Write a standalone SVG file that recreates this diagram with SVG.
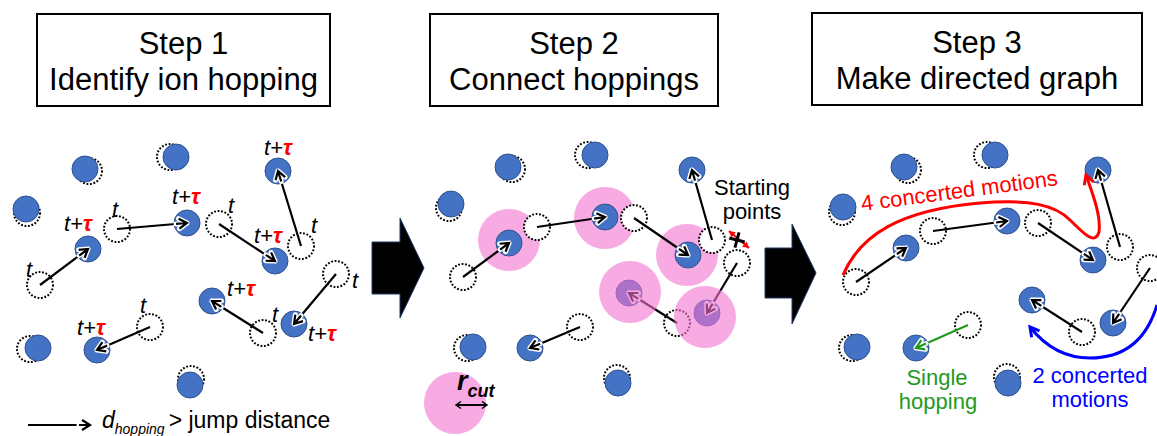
<svg xmlns="http://www.w3.org/2000/svg" width="1157" height="436" viewBox="0 0 1157 436">
<style>
.ion{fill:#4472c4;stroke:#2f528f;stroke-width:1}
.ghost{fill:#fff;stroke:#000;stroke-width:2;stroke-dasharray:1.8 1.7}
.arr{stroke:#000;stroke-width:2.2;fill:none;marker-end:url(#ah)}
.garr{stroke:#1f9a1f;stroke-width:2.2;fill:none;marker-end:url(#ahg)}
.lb{font-family:"Liberation Sans",Arial,sans-serif;font-size:22px;font-style:italic;fill:#000}
.tau{fill:#ff0000;font-weight:bold}
.hdr{font-family:"Liberation Sans",Arial,sans-serif;font-size:31px;text-anchor:middle;fill:#000}
.box{fill:#fff;stroke:#000;stroke-width:2}
.pink{fill:#f8aae2}
.pinkov{fill:#f371cf;opacity:0.6}
.txt{font-family:"Liberation Sans",Arial,sans-serif;font-size:22px}
.blk{fill:#000;stroke:#1f3864;stroke-width:1}
</style>
<defs>
<marker id="ah" viewBox="-14 -8 18 16" refX="0" refY="0" markerWidth="18" markerHeight="16" markerUnits="userSpaceOnUse" orient="auto" overflow="visible">
<path d="M-8,-5 L0,0 L-8,5 M0,0 L-11,0" fill="none" stroke="#fff" stroke-width="5" stroke-linejoin="round" stroke-linecap="round"/>
<path d="M-8,-5 L0,0 L-8,5 M0,0 L-11,0" fill="none" stroke="#000" stroke-width="2.2"/>
</marker>
<marker id="ahg" viewBox="-14 -8 18 16" refX="0" refY="0" markerWidth="18" markerHeight="16" markerUnits="userSpaceOnUse" orient="auto" overflow="visible">
<path d="M-8,-5 L0,0 L-8,5 M0,0 L-11,0" fill="none" stroke="#fff" stroke-width="5" stroke-linejoin="round" stroke-linecap="round"/>
<path d="M-8,-5 L0,0 L-8,5 M0,0 L-11,0" fill="none" stroke="#1f9a1f" stroke-width="2.2"/>
</marker>
<marker id="ahr" viewBox="-12 -8 14 16" refX="0" refY="0" markerWidth="14" markerHeight="16" markerUnits="userSpaceOnUse" orient="auto" overflow="visible">
<path d="M-9,-5 L0,0 L-9,5" fill="none" stroke="#ff0000" stroke-width="3"/>
</marker>
<marker id="ahb" viewBox="-12 -8 14 16" refX="0" refY="0" markerWidth="14" markerHeight="16" markerUnits="userSpaceOnUse" orient="auto" overflow="visible">
<path d="M-9,-5 L0,0 L-9,5" fill="none" stroke="#0000ff" stroke-width="3"/>
</marker>
<marker id="tr" viewBox="-6 -4 7 8" refX="0" refY="0" markerWidth="7" markerHeight="8" markerUnits="userSpaceOnUse" orient="auto-start-reverse" overflow="visible">
<path d="M-6,-3.5 L0,0 L-6,3.5 Z" fill="#ff0000"/>
</marker>
<marker id="tk" viewBox="-6 -4 7 8" refX="0" refY="0" markerWidth="7" markerHeight="8" markerUnits="userSpaceOnUse" orient="auto-start-reverse" overflow="visible">
<path d="M-5,-3.5 L0,0 L-5,3.5" fill="none" stroke="#000" stroke-width="1.5"/>
</marker>
</defs>

<!-- Headers -->
<g id="step1"><rect class="box" x="37" y="14" width="293" height="92"/><text class="hdr" x="183.5" y="54">Step 1</text><text class="hdr" x="183.5" y="90">Identify ion hopping</text></g>
<g id="step2"><rect class="box" x="430" y="14" width="288" height="92"/><text class="hdr" x="574" y="54">Step 2</text><text class="hdr" x="574" y="90">Connect hoppings</text></g>
<g id="step3"><rect class="box" x="812" y="13" width="330" height="92"/><text class="hdr" x="977" y="53">Step 3</text><text class="hdr" x="977" y="89">Make directed graph</text></g>

<!-- Block arrows -->
<g id="bigarrow1"><polygon class="blk" points="372,242 400,242 400,218 424,268 400,318 400,294 372,294"/></g>
<g id="bigarrow2"><polygon class="blk" points="765,248 792,248 792,224 816,273 792,324 792,298 765,298"/></g>

<!-- ===== Panel 1 ===== -->
<g id="p1-s1"><circle class="ghost" cx="89" cy="171" r="13"/><circle class="ion" cx="85" cy="169" r="13"/></g>
<g id="p1-s2"><circle class="ghost" cx="27" cy="213" r="13"/><circle class="ion" cx="26" cy="209" r="13"/></g>
<g id="p1-s3"><circle class="ghost" cx="170" cy="157" r="13"/><circle class="ion" cx="176" cy="157" r="13"/></g>
<g id="p1-s4"><circle class="ghost" cx="30" cy="349" r="13"/><circle class="ion" cx="38" cy="348" r="13"/></g>
<g id="p1-s5"><circle class="ghost" cx="191" cy="379" r="13"/><circle class="ion" cx="190" cy="385" r="13"/></g>

<g id="p1-h1"><circle class="ghost" cx="40" cy="285" r="13"/><circle class="ion" cx="88" cy="249" r="13"/><text class="lb" x="26" y="277">t</text><text class="lb" x="64" y="231">t+<tspan class="tau">τ</tspan></text></g>
<g id="p1-h2"><circle class="ghost" cx="117" cy="229" r="13"/><circle class="ion" cx="187" cy="223" r="13"/><text class="lb" x="112" y="217">t</text><text class="lb" x="172" y="204">t+<tspan class="tau">τ</tspan></text></g>
<g id="p1-h3"><circle class="ghost" cx="219" cy="224" r="13"/><circle class="ion" cx="275" cy="261" r="13"/><text class="lb" x="228" y="213">t</text><text class="lb" x="254" y="243">t+<tspan class="tau">τ</tspan></text></g>
<g id="p1-h4"><circle class="ghost" cx="301" cy="246" r="13"/><circle class="ion" cx="278" cy="171" r="13"/><text class="lb" x="311" y="233">t</text><text class="lb" x="264" y="155">t+<tspan class="tau">τ</tspan></text></g>
<g id="p1-h5"><circle class="ghost" cx="336" cy="274" r="13"/><circle class="ion" cx="294" cy="324" r="13"/><text class="lb" x="352" y="288">t</text><text class="lb" x="308" y="341">t+<tspan class="tau">τ</tspan></text></g>
<g id="p1-h6"><circle class="ghost" cx="263" cy="333" r="13"/><circle class="ion" cx="212" cy="301" r="13"/><text class="lb" x="272" y="322">t</text><text class="lb" x="227" y="296">t+<tspan class="tau">τ</tspan></text></g>
<g id="p1-h7"><circle class="ghost" cx="150" cy="327" r="13"/><circle class="ion" cx="97" cy="350" r="13"/><text class="lb" x="140" y="313">t</text><text class="lb" x="77" y="335">t+<tspan class="tau">τ</tspan></text></g>

<g id="p1-legend">
<text class="txt" x="102" y="428" style="font-size:23px"><tspan font-style="italic">d</tspan><tspan font-style="italic" style="font-size:14px" dy="6">hopping</tspan><tspan dy="-6" dx="4">&gt; jump distance</tspan></text>
</g>

<g id="p1-connectors">
<line class="arr" x1="40" y1="285" x2="88" y2="249"/>
<line class="arr" x1="117" y1="229" x2="187" y2="223"/>
<line class="arr" x1="219" y1="224" x2="275" y2="261"/>
<line class="arr" x1="301" y1="246" x2="278" y2="171"/>
<line class="arr" x1="336" y1="274" x2="294" y2="324"/>
<line class="arr" x1="263" y1="333" x2="212" y2="301"/>
<line class="arr" x1="150" y1="327" x2="97" y2="350"/>
<line class="arr" x1="28" y1="425" x2="90" y2="425"/>
</g>

<!-- ===== Panel 2 ===== -->
<g id="p2-pinks">
<circle class="pink" cx="509" cy="240" r="31"/>
<circle class="pink" cx="605" cy="218" r="31"/>
<circle class="pink" cx="687" cy="255" r="31"/>
</g>
<g id="p2-s1"><circle class="ghost" cx="512" cy="169" r="13"/><circle class="ion" cx="508" cy="167" r="13"/></g>
<g id="p2-s2"><circle class="ghost" cx="449" cy="208" r="13"/><circle class="ion" cx="451" cy="204" r="13"/></g>
<g id="p2-s3"><circle class="ghost" cx="588" cy="155" r="13"/><circle class="ion" cx="595" cy="155" r="13"/></g>
<g id="p2-s4"><circle class="ghost" cx="467" cy="348" r="13"/><circle class="ion" cx="473" cy="347" r="13"/></g>
<g id="p2-s5"><circle class="ghost" cx="617" cy="378" r="13"/><circle class="ion" cx="618" cy="383" r="13"/></g>
<g id="p2-h1"><circle class="ghost" cx="463" cy="277" r="13"/><circle class="ion" cx="509" cy="243" r="13"/></g>
<g id="p2-h2"><circle class="ghost" cx="537" cy="227" r="13"/><circle class="ion" cx="605" cy="217" r="13"/></g>
<g id="p2-h3"><circle class="ghost" cx="634" cy="218" r="13"/><circle class="ion" cx="688" cy="255" r="13"/></g>
<g id="p2-h4"><circle class="ghost" cx="712" cy="240" r="13"/><circle class="ion" cx="692" cy="170" r="13"/></g>
<g id="p2-h5"><circle class="ghost" cx="737" cy="263" r="13"/><circle class="ion" cx="707" cy="313" r="13"/></g>
<g id="p2-h6"><circle class="ghost" cx="677" cy="323" r="13"/><circle class="ion" cx="629" cy="293" r="13"/></g>
<g id="p2-h7"><circle class="ghost" cx="580" cy="327" r="13"/><circle class="ion" cx="530" cy="348" r="13"/></g>

<g id="p2-connectors">
<line class="arr" x1="463" y1="277" x2="509" y2="243"/>
<line class="arr" x1="537" y1="227" x2="605" y2="217"/>
<line class="arr" x1="634" y1="218" x2="688" y2="255"/>
<line class="arr" x1="712" y1="240" x2="692" y2="170"/>
<line class="arr" x1="737" y1="263" x2="707" y2="313"/>
<line class="arr" x1="677" y1="323" x2="629" y2="293"/>
<line class="arr" x1="580" y1="327" x2="530" y2="348"/>
</g>

<g id="p2-pinks-over">
<circle class="pinkov" cx="630" cy="292" r="31"/>
<circle class="pinkov" cx="705" cy="317" r="31"/>
</g>

<g id="p2-start">
<text class="txt" x="752" y="195" text-anchor="middle">Starting</text>
<text class="txt" x="752" y="219" text-anchor="middle">points</text>
<line x1="729" y1="231" x2="749" y2="248" stroke="#ff0000" stroke-width="2" marker-start="url(#tr)" marker-end="url(#tr)"/>
<path d="M729,240 H745 M737,232 V248" stroke="#000" stroke-width="3" transform="rotate(15 737 240)"/>
</g>

<g id="p2-rcut">
<circle class="pink" cx="455" cy="403" r="31"/>
<text x="457" y="390" font-family="Liberation Sans,Arial,sans-serif" font-size="27" font-weight="bold" font-style="italic">r<tspan font-size="18" dy="7">cut</tspan></text>
<line x1="456" y1="405" x2="487" y2="405" stroke="#000" stroke-width="2" marker-start="url(#tk)" marker-end="url(#tk)"/>
</g>

<!-- ===== Panel 3 ===== -->
<g id="p3-s1"><circle class="ghost" cx="908" cy="170" r="13"/><circle class="ion" cx="904" cy="167" r="13"/></g>
<g id="p3-s2"><circle class="ghost" cx="842" cy="212" r="13"/><circle class="ion" cx="843" cy="207" r="13"/></g>
<g id="p3-s3"><circle class="ghost" cx="987" cy="155" r="13"/><circle class="ion" cx="995" cy="155" r="13"/></g>
<g id="p3-s4"><circle class="ghost" cx="852" cy="348" r="13"/><circle class="ion" cx="857" cy="347" r="13"/></g>
<g id="p3-s5"><circle class="ghost" cx="1007" cy="377" r="13"/><circle class="ion" cx="1008" cy="383" r="13"/></g>
<g id="p3-h1"><circle class="ghost" cx="856" cy="282" r="13"/><circle class="ion" cx="906" cy="248" r="13"/></g>
<g id="p3-h2"><circle class="ghost" cx="933" cy="231" r="13"/><circle class="ion" cx="1007" cy="221" r="13"/></g>
<g id="p3-h3"><circle class="ghost" cx="1038" cy="223" r="13"/><circle class="ion" cx="1093" cy="260" r="13"/></g>
<g id="p3-h4"><circle class="ghost" cx="1120" cy="247" r="13"/><circle class="ion" cx="1098" cy="170" r="13"/></g>
<g id="p3-h5"><circle class="ghost" cx="1150" cy="268" r="13"/><circle class="ion" cx="1113" cy="323" r="13"/></g>
<g id="p3-h6"><circle class="ghost" cx="1082" cy="332" r="13"/><circle class="ion" cx="1032" cy="300" r="13"/></g>
<g id="p3-h7"><circle class="ghost" cx="968" cy="325" r="13"/><circle class="ion" cx="916" cy="348" r="13"/></g>

<g id="p3-connectors">
<line class="arr" x1="856" y1="282" x2="906" y2="248"/>
<line class="arr" x1="933" y1="231" x2="1007" y2="221"/>
<line class="arr" x1="1038" y1="223" x2="1093" y2="260"/>
<line class="arr" x1="1120" y1="247" x2="1098" y2="170"/>
<line class="arr" x1="1150" y1="268" x2="1113" y2="323"/>
<line class="arr" x1="1082" y1="332" x2="1032" y2="300"/>
<line class="garr" x1="968" y1="325" x2="916" y2="348"/>
<path d="M843,275 C860,235 900,210 980,203 C1030,199 1055,205 1070,220 C1085,235 1095,245 1099,232 C1101,215 1093,195 1086,175" fill="none" stroke="#ff0000" stroke-width="3" marker-end="url(#ahr)"/>
<path d="M1157,305 C1145,345 1120,358 1090,358 C1065,358 1045,346 1030,327" fill="none" stroke="#0000ff" stroke-width="3" marker-end="url(#ahb)"/>
</g>

<g id="p3-labels">
<text class="txt" x="862" y="211" fill="#ff0000" transform="rotate(-7.5 862 211)">4 concerted motions</text>
<text class="txt" x="937" y="385" fill="#1f9a1f" text-anchor="middle">Single</text>
<text class="txt" x="938" y="409" fill="#1f9a1f" text-anchor="middle">hopping</text>
<text class="txt" x="1090" y="383" fill="#0000ff" text-anchor="middle">2 concerted</text>
<text class="txt" x="1090" y="407" fill="#0000ff" text-anchor="middle">motions</text>
</g>
</svg>
